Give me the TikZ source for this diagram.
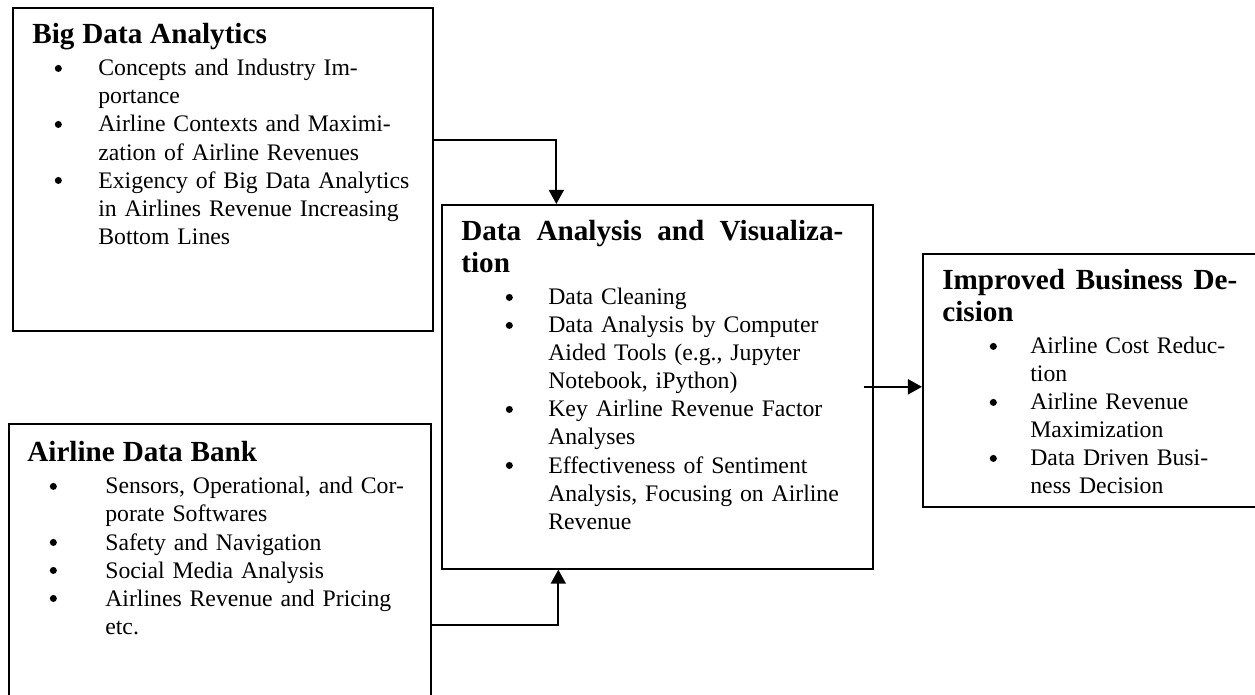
\documentclass[tikz,border=0pt]{standalone}
\usepackage{fontspec}
\setmainfont{Liberation Serif}
\usetikzlibrary{arrows.meta,positioning,calc}

\newdimen\pxu \pxu=0.02cm
\newdimen\bulpos \newdimen\txtpos
\newcommand{\bullets}[2]{\bulpos=#1\pxu \txtpos=#2\pxu}
\newcommand{\dotmark}{\tikz[baseline=0pt]\fill (0,4.3pt) circle (2pt);}
\newcommand{\bul}{\hspace*{\bulpos}\makebox[0pt]{\dotmark}\hspace*{\dimexpr\txtpos-\bulpos\relax}}
\newcommand{\cont}{\hspace*{\txtpos}}
\newcommand{\boxhead}[1]{{\fontsize{16.6}{18.2}\selectfont\bfseries #1\par}\vspace{2.27pt}}

\begin{document}
\begin{tikzpicture}[
  x=0.02cm, y=-0.02cm,
  panel/.style={draw, line width=1pt, anchor=north west, inner sep=0pt},
  panelText/.style={anchor=base west, inner sep=0pt, text width=8.4cm, align=left,
    font=\fontsize{13.5}{15.94}\selectfont},
  conn/.style={-{Triangle[width=8.5pt,length=8pt]}, line width=1.2pt}
]
\fill[white] (0,0) rectangle (1255,695);
\useasboundingbox (0,0) rectangle (1255,695);

% Boxes
\node[panel, minimum width=8.4cm, minimum height=6.46cm] (bda) at (12,7) {};
\node[panel, minimum width=8.44cm, minimum height=6cm] (adb) at (8,423) {};
\node[panel, minimum width=8.62cm, minimum height=7.28cm] (dav) at (441,204) {};
\node[panel, minimum width=7.2cm, minimum height=5.06cm] (ibd) at (922,253) {};

% Box contents
\node[panelText] (bdaText) at (32,44) {\bullets{26}{66}%
  \boxhead{Big Data Analytics}
  \bul Concepts and Industry Im-\\\cont portance\\
  \bul Airline Contexts and Maximi-\\\cont zation of Airline Revenues\\
  \bul Exigency of Big Data Analytics\\\cont in Airlines Revenue Increasing\\\cont Bottom Lines};
\node[panelText] (adbText) at (27,462) {\bullets{26}{78}%
  \boxhead{Airline Data Bank}
  \bul Sensors, Operational, and Cor-\\\cont porate Softwares\\
  \bul Safety and Navigation\\
  \bul Social Media Analysis\\
  \bul Airlines Revenue and Pricing\\\cont etc.};
\node[panelText] (davText) at (461,241) {\bullets{48}{87}%
  \boxhead{\makebox[382\pxu][s]{Data\hfill Analysis\hfill and\hfill Visualiza-}\\tion}
  \bul Data Cleaning\\
  \bul Data Analysis by Computer\\\cont Aided Tools (e.g., Jupyter\\\cont Notebook, iPython)\\
  \bul Key Airline Revenue Factor\\\cont Analyses\\
  \bul Effectiveness of Sentiment\\\cont Analysis, Focusing on Airline\\\cont Revenue};
\node[panelText] (ibdText) at (942,290) {\bullets{51}{88}%
  \boxhead{\makebox[295\pxu][s]{Improved\hfill Business\hfill De-}\\cision}
  \bul Airline Cost Reduc-\\\cont tion\\
  \bul Airline Revenue\\\cont Maximization\\
  \bul Data Driven Busi-\\\cont ness Decision};

% Arrows
\draw[conn] ($(bda.north east)+(0,133)$) -| ($(dav.north)+(-101,0)$);
\draw[conn] ($(adb.north east)+(0,202)$) -| ($(dav.south)+(-99,0)$);
\draw[conn] ($(dav.east)+(-10,0)$) -- (dav.east -| ibd.west);

\end{tikzpicture}
\end{document}
